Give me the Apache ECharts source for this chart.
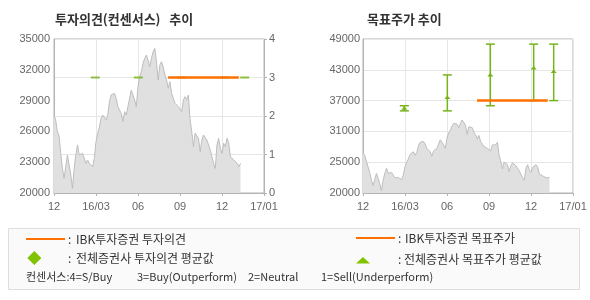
<!DOCTYPE html>
<html>
<head>
<meta charset="utf-8">
<script src="https://cdn.jsdelivr.net/npm/echarts@6/dist/echarts.min.js"></script>
<style>html,body{margin:0;padding:0;background:#fff}#c{width:590px;height:300px}</style>
</head>
<body>
<div id="c"></div>
<script>
// ---- data ----
const xTickLabels = ['12', '16/03', '06', '09', '12', '17/01'];
const priceTickLabels = ['20000', '23000', '26000', '29000', '32000', '35000'];
const opinionTickLabels = ['0', '1', '2', '3', '4'];
const targetTickLabels = ['20000', '25000', '31000', '37000', '43000', '49000'];

// daily close (sampled), one value per timeline step
const priceValues = [
  27600, 27110, 25970, 25600, 23870, 22400, 21430, 22560, 23700, 22730,
  21750, 20460, 22400, 23700, 24680, 23700, 23540, 23870, 23700, 22890,
  23220, 22890, 22730, 22560, 23380, 25000, 25800, 26400, 27280, 27600,
  27760, 27110, 27600, 28900, 29550, 29380, 29710, 29220, 28410, 28250,
  27760, 26950, 27920, 27600, 28410, 29220, 30030, 29550, 29060, 28410,
  30350, 31330, 31820, 32630, 33120, 33440, 32950, 32300, 33120, 33760,
  34090, 32790, 31010, 32470, 32790, 32300, 31490, 31010, 30200, 30840,
  29710, 29220, 28740, 28900, 28410, 28570, 27920, 29060, 29380, 29060,
  29550, 27110, 25970, 24510, 25820, 25900, 25330, 24020, 25160, 25650,
  25820, 25160, 25000, 24190, 23540, 22890, 22400, 24680, 25330, 24350,
  23870, 24840, 24510, 25330, 24840, 23540, 23380, 23220, 23050, 22890,
  22560, 22890
];

// all-broker consensus events (timeline position)
const consensusPos = [24.6, 50.2, 75.8, 101.6, 113.5];
const consensusOpinion = [3, 3, 3, 3, 3];
const targetLow = [35000, 35000, 36000, 37000, 37000];
const targetHigh = [36000, 42000, 48000, 48000, 48000];
const targetAvg = [35500, 37600, 42000, 43350, 42650];

// IBK opinion / target period
const ibkPos = [67.9, 110];
const ibkOpinion = [3, 3];
const ibkTarget = [37000, 37000];

// ---- build ----
const pricePairs = priceValues.map((v, i) => [i, v]);
const consensusPairs = consensusPos.map((x, i) => [x, consensusOpinion[i]]);
const targetRows = consensusPos.map((x, i) => [x, targetLow[i], targetHigh[i], targetAvg[i]]);
const ibkOpinionPairs = ibkPos.map((x, i) => [x, ibkOpinion[i]]);
const ibkTargetPairs = ibkPos.map((x, i) => [x, ibkTarget[i]]);

const GREEN = '#77b41a';
const ORANGE = '#ff7000';
const AXIS = '#b4b4b4';
const SPLIT = '#e6e6e6';
const LBL = { color: '#666', fontSize: 11, fontFamily: 'Liberation Sans' };
const KR = 'Noto Sans CJK KR';

function xAxisCfg(gi) {
  return {
    type: 'value', gridIndex: gi, min: 0, max: 125, interval: 25,
    axisLine: { lineStyle: { color: AXIS } },
    axisTick: { show: true, length: 3, lineStyle: { color: AXIS } },
    splitLine: { show: true, lineStyle: { color: SPLIT } },
    axisLabel: Object.assign({ margin: 8, formatter: v => xTickLabels[Math.round(v / 25)] }, LBL)
  };
}

const chart = echarts.init(document.getElementById('c'), null, { renderer: 'canvas' });
chart.setOption({
  animation: false,
  title: [
    { text: '투자의견(컨센서스)   추이', left: 55, top: 13, padding: 0,
      textStyle: { fontSize: 13, fontWeight: 'bold', color: '#333', fontFamily: KR } },
    { text: '목표주가 추이', left: 367, top: 13, padding: 0,
      textStyle: { fontSize: 13, fontWeight: 'bold', color: '#333', fontFamily: KR } }
  ],
  grid: [
    { left: 54, top: 39, width: 210, height: 154, show: true, borderColor: AXIS, borderWidth: 1 },
    { left: 363, top: 39, width: 210, height: 154, show: true, borderColor: AXIS, borderWidth: 1 }
  ],
  xAxis: [xAxisCfg(0), xAxisCfg(1)],
  yAxis: [
    { type: 'value', gridIndex: 0, position: 'left', min: 20000, max: 35000, interval: 3000,
      axisLine: { show: true, lineStyle: { color: AXIS } }, axisTick: { show: false },
      splitLine: { show: false },
      axisLabel: Object.assign({ margin: 4, formatter: v => priceTickLabels[Math.round((v - 20000) / 3000)] }, LBL) },
    { type: 'value', gridIndex: 0, position: 'right', min: 0, max: 4, interval: 1,
      axisLine: { show: true, lineStyle: { color: AXIS } },
      axisTick: { show: true, length: 3, lineStyle: { color: AXIS } },
      splitLine: { show: true, lineStyle: { color: SPLIT } },
      axisLabel: Object.assign({ margin: 5, formatter: v => opinionTickLabels[Math.round(v)] }, LBL) },
    { type: 'value', gridIndex: 1, position: 'left', min: 19000, max: 49000, interval: 6000,
      axisLine: { show: true, lineStyle: { color: AXIS } }, axisTick: { show: false },
      splitLine: { show: true, lineStyle: { color: SPLIT } },
      axisLabel: Object.assign({ margin: 3, formatter: v => targetTickLabels[Math.round((v - 19000) / 6000)] }, LBL) },
    { type: 'value', gridIndex: 1, position: 'right', min: 20000, max: 49000, show: false,
      splitLine: { show: false } }
  ],
  series: [
    { type: 'line', xAxisIndex: 0, yAxisIndex: 0, data: pricePairs, showSymbol: false, z: 1,
      lineStyle: { color: '#bdbdbd', width: 1 }, areaStyle: { color: '#e0e0e0', opacity: 1 } },
    { type: 'scatter', xAxisIndex: 0, yAxisIndex: 1, data: consensusPairs, symbol: 'rect',
      symbolSize: [9, 2], itemStyle: { color: GREEN }, z: 3 },
    { type: 'line', xAxisIndex: 0, yAxisIndex: 1, data: ibkOpinionPairs, showSymbol: false, z: 4,
      lineStyle: { color: ORANGE, width: 2.5 } },

    { type: 'line', xAxisIndex: 1, yAxisIndex: 3, data: pricePairs, showSymbol: false, z: 1,
      lineStyle: { color: '#bdbdbd', width: 1 }, areaStyle: { color: '#e0e0e0', opacity: 1 } },
    { type: 'custom', xAxisIndex: 1, yAxisIndex: 2, data: targetRows, z: 3,
      encode: { x: 0, y: [1, 2, 3] },
      renderItem: function (params, api) {
        const x = api.value(0);
        const lo = api.coord([x, api.value(1)]);
        const hi = api.coord([x, api.value(2)]);
        const av = api.coord([x, api.value(3)]);
        const st = { stroke: GREEN, lineWidth: 1.5 };
        return { type: 'group', children: [
          { type: 'line', shape: { x1: lo[0], y1: lo[1], x2: hi[0], y2: hi[1] }, style: st },
          { type: 'line', shape: { x1: lo[0] - 4.5, y1: lo[1], x2: lo[0] + 4.5, y2: lo[1] }, style: st },
          { type: 'line', shape: { x1: hi[0] - 4.5, y1: hi[1], x2: hi[0] + 4.5, y2: hi[1] }, style: st },
          { type: 'polygon', shape: { points: [[av[0] - 3, av[1] + 1.5], [av[0] + 3, av[1] + 1.5], [av[0], av[1] - 2]] },
            style: { fill: GREEN } }
        ] };
      } },
    { type: 'line', xAxisIndex: 1, yAxisIndex: 2, data: ibkTargetPairs, showSymbol: false, z: 4,
      lineStyle: { color: ORANGE, width: 2.5 } }
  ],
  graphic: [
    { type: 'rect', shape: { x: 8.5, y: 228.5, width: 571, height: 61 }, style: { fill: '#fafafa', stroke: '#dedede', lineWidth: 1 }, z: 0 },
    { type: 'line', shape: { x1: 26, y1: 239, x2: 65, y2: 239 }, style: { stroke: ORANGE, lineWidth: 2 } },
    { type: 'text', x: 68, y: 239, style: { text: ':', fill: '#333', font: '12px "Noto Sans CJK KR"', textVerticalAlign: 'middle' } },
    { type: 'text', x: 76, y: 239, style: { text: 'IBK투자증권 투자의견', fill: '#333', font: '12px "Noto Sans CJK KR"', textVerticalAlign: 'middle' } },
    { type: 'polygon', shape: { points: [[34.3, 251], [41.3, 258], [34.3, 265], [27.3, 258]] }, style: { fill: '#82c300' } },
    { type: 'text', x: 68, y: 258, style: { text: ':', fill: '#333', font: '12px "Noto Sans CJK KR"', textVerticalAlign: 'middle' } },
    { type: 'text', x: 76, y: 258, style: { text: '전체증권사 투자의견 평균값', fill: '#333', font: '12px "Noto Sans CJK KR"', textVerticalAlign: 'middle' } },
    { type: 'line', shape: { x1: 356, y1: 238, x2: 395, y2: 238 }, style: { stroke: ORANGE, lineWidth: 2 } },
    { type: 'text', x: 398, y: 238, style: { text: ':', fill: '#333', font: '12px "Noto Sans CJK KR"', textVerticalAlign: 'middle' } },
    { type: 'text', x: 405, y: 238, style: { text: 'IBK투자증권 목표주가', fill: '#333', font: '12px "Noto Sans CJK KR"', textVerticalAlign: 'middle' } },
    { type: 'polygon', shape: { points: [[356, 263.5], [370, 263.5], [363, 257]] }, style: { fill: '#82c300' } },
    { type: 'text', x: 398, y: 259, style: { text: ':', fill: '#333', font: '12px "Noto Sans CJK KR"', textVerticalAlign: 'middle' } },
    { type: 'text', x: 404, y: 259, style: { text: '전체증권사 목표주가 평균값', fill: '#333', font: '12px "Noto Sans CJK KR"', textVerticalAlign: 'middle' } },
    { type: 'text', x: 26, y: 276.5, style: { text: '컨센서스:4=S/Buy', fill: '#333', font: '11px "Noto Sans CJK KR"', textVerticalAlign: 'middle' } },
    { type: 'text', x: 137, y: 276.5, style: { text: '3=Buy(Outperform)', fill: '#333', font: '11px "Noto Sans CJK KR"', textVerticalAlign: 'middle' } },
    { type: 'text', x: 248, y: 276.5, style: { text: '2=Neutral', fill: '#333', font: '11px "Noto Sans CJK KR"', textVerticalAlign: 'middle' } },
    { type: 'text', x: 321, y: 276.5, style: { text: '1=Sell(Underperform)', fill: '#333', font: '11px "Noto Sans CJK KR"', textVerticalAlign: 'middle' } }
  ]
});
</script>
</body>
</html>
